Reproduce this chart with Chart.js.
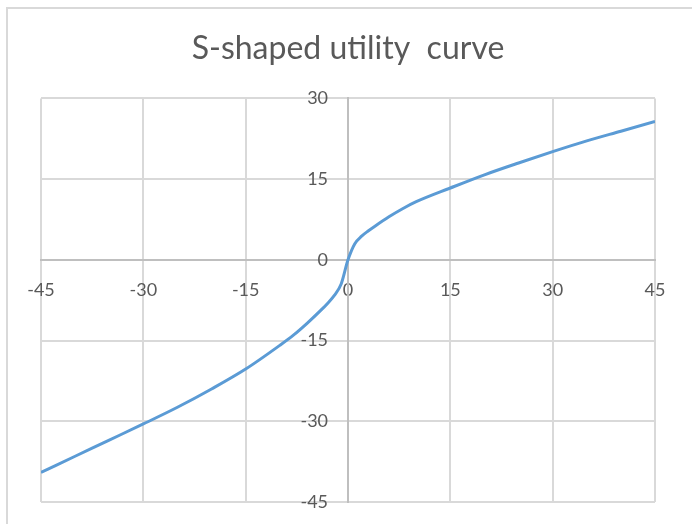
<!DOCTYPE html>
<html>
<head>
<meta charset="utf-8">
<script src="https://cdn.jsdelivr.net/npm/chart.js@4/dist/chart.umd.min.js"></script>
<style>
  html, body { margin: 0; padding: 0; background: #ffffff; }
  #wrap { width: 692px; height: 524px; }
</style>
</head>
<body>
<div id="wrap"><canvas id="chart" width="692" height="524"></canvas></div>
<script>
// Outcome (gain / loss) and the utility assigned to it
const outcomes = [-45, -40, -35, -30, -25, -20, -15, -10, -8, -6, -4, -3, -2, -1, 0,
                  1, 2, 3, 4, 6, 8, 10, 15, 20, 25, 30, 35, 40, 45];
const utility  = [-39.5, -36.5, -33.5, -30.5, -27.4, -24.0, -20.3, -15.9, -14.0, -11.8, -9.4, -8.1, -6.6, -4.5, 0,
                  3.0, 4.4, 5.4, 6.3, 8.0, 9.5, 10.8, 13.35, 15.8, 18.0, 20.1, 22.1, 23.9, 25.7];

const xTicks = [-45, -30, -15, 0, 15, 30, 45];
const yTicks = [-45, -30, -15, 0, 15, 30];

const titleText = 'S-shaped utility  curve';

const GRID = '#d9d9d9';
const AXIS = '#bfbfbf';
const TEXT = '#595959';
const LINE = '#5b9bd5';
const FONT = 'Lato';

// Y tick labels sit a little to the left of the vertical axis line
const Y_LABEL_SHIFT = -2.93;

// Thin frame around the chart object (top and left edges fall inside the page)
const framePlugin = {
  id: 'frame',
  beforeDraw(chart) {
    const ctx = chart.ctx;
    ctx.save();
    ctx.strokeStyle = GRID;
    ctx.lineWidth = 2;
    ctx.beginPath();
    ctx.moveTo(7, chart.height);
    ctx.lineTo(7, 8);
    ctx.lineTo(chart.width, 8);
    ctx.stroke();
    ctx.restore();
  }
};

// Crossing axes take no room in the layout
function noBoxX(scale) {
  scale.height = 0;
  scale.paddingLeft = 0; scale.paddingRight = 0;
  scale.paddingTop = 0; scale.paddingBottom = 0;
}
function noBoxY(scale) {
  scale.width = 0;
  scale.paddingLeft = 0; scale.paddingRight = 0;
  scale.paddingTop = 0; scale.paddingBottom = 0;
}
const gridColor = ctx => (ctx.tick && ctx.tick.value === 0 ? AXIS : GRID);

const points = outcomes.map((x, i) => ({ x: x, y: utility[i] }));

new Chart(document.getElementById('chart'), {
  type: 'line',
  data: {
    datasets: [{
      data: points,
      xAxisID: 'x',
      yAxisID: 'y',
      borderColor: LINE,
      borderWidth: 3,
      pointRadius: 0,
      fill: false,
      cubicInterpolationMode: 'monotone'
    }]
  },
  options: {
    responsive: false,
    animation: false,
    layout: { padding: { left: 41, right: 37, top: 0, bottom: 22 } },
    plugins: {
      legend: { display: false },
      tooltip: { enabled: false },
      title: {
        display: true,
        text: titleText,
        color: TEXT,
        font: { family: FONT, size: 32, weight: 'normal', lineHeight: 1.2 },
        padding: { top: 29, bottom: 31 }
      }
    },
    scales: {
      x: {
        type: 'linear',
        position: { y: 0 },
        min: -45, max: 45,
        afterFit: noBoxX,
        afterBuildTicks(scale) { scale.ticks = xTicks.map(v => ({ value: v })); },
        grid: { color: gridColor, lineWidth: 2, drawTicks: false },
        border: { display: true, color: AXIS, width: 2 },
        ticks: {
          color: TEXT,
          padding: 20,
          maxRotation: 0,
          font: { family: FONT, size: 18 }
        }
      },
      y: {
        type: 'linear',
        position: { x: 0 },
        min: -45, max: 30,
        afterFit: noBoxY,
        afterBuildTicks(scale) { scale.ticks = yTicks.map(v => ({ value: v })); },
        grid: { color: gridColor, lineWidth: 2, drawTicks: false },
        border: { display: true, color: AXIS, width: 2 },
        ticks: { display: false }
      },
      yLabels: {
        type: 'linear',
        axis: 'y',
        position: { x: Y_LABEL_SHIFT },
        min: -45, max: 30,
        afterFit: noBoxY,
        afterBuildTicks(scale) { scale.ticks = yTicks.map(v => ({ value: v })); },
        grid: { display: false, drawTicks: false },
        border: { display: false },
        ticks: {
          color: TEXT,
          padding: 0,
          font: { family: FONT, size: 18 }
        }
      }
    }
  },
  plugins: [framePlugin]
});
</script>
</body>
</html>
